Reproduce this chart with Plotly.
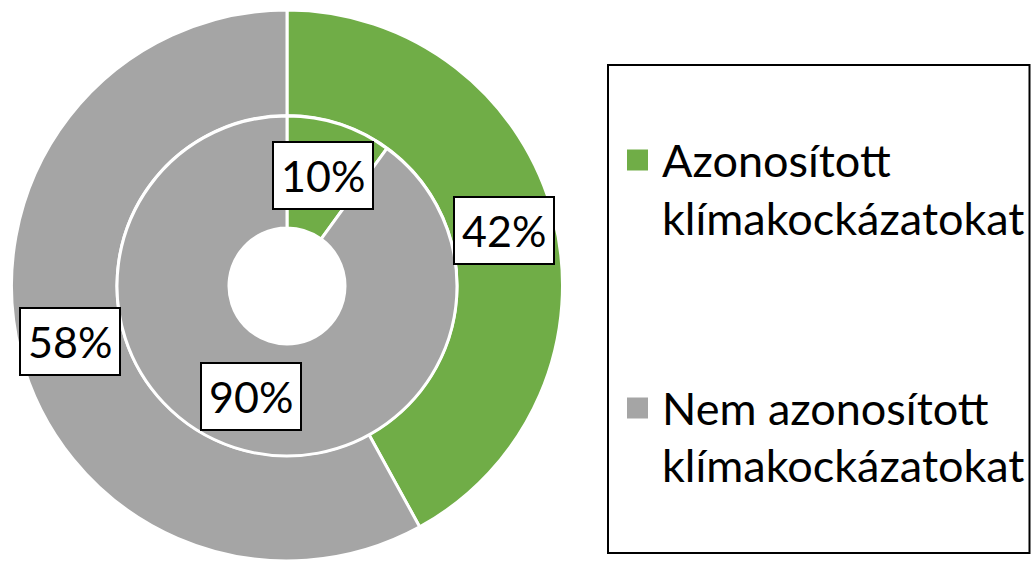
import math
import plotly.graph_objects as go

categories = ["Azonosított klímakockázatokat", "Nem azonosított klímakockázatokat"]
outer_values = [42, 58]
inner_values = [10, 90]
colors = ["#70AD47", "#A5A5A5"]

W, H = 1031, 561
FONT = "Lato"
FS_LABEL = 43
FS_LEG = 45

# geometry in pixels
cx, cy = 287, 286
top_out = 10
R_out = (H - top_out) / 2  # outer ring touches the bottom edge
R_in = 170
hole_in = 58


def px2x(p):
    return p / W


def py2y(p):
    return 1 - p / H


fig = go.Figure()
fig.add_trace(go.Pie(
    values=outer_values, labels=categories, sort=False, direction="clockwise", rotation=0,
    hole=R_in / R_out, marker=dict(colors=colors, line=dict(color="white", width=3)),
    textinfo="none", hoverinfo="skip", showlegend=False,
    domain=dict(x=[px2x(cx - R_out), px2x(cx + R_out)], y=[0, py2y(top_out)]),
))
fig.add_trace(go.Pie(
    values=inner_values, labels=categories, sort=False, direction="clockwise", rotation=0,
    hole=hole_in / R_in, marker=dict(colors=colors, line=dict(color="white", width=3)),
    textinfo="none", hoverinfo="skip", showlegend=False,
    domain=dict(x=[px2x(cx - R_in), px2x(cx + R_in)], y=[py2y(cy + R_in), py2y(cy - R_in)]),
))


def add_labels(values, r):
    total = sum(values)
    cum = 0
    for v in values:
        mid = (cum + v / 2) / total * 2 * math.pi
        cum += v
        px = cx + r * math.sin(mid)
        py = cy - r * math.cos(mid)
        fig.add_annotation(
            x=px2x(px), y=py2y(py), xref="paper", yref="paper",
            xanchor="center", yanchor="middle",
            text=f"{round(v / total * 100)}%", showarrow=False,
            font=dict(family=FONT, size=FS_LABEL, color="black"),
            bgcolor="white", bordercolor="black", borderwidth=2, borderpad=7,
        )


add_labels(outer_values, 224)
add_labels(inner_values, 116)

# legend box
fig.add_shape(type="rect", xref="paper", yref="paper",
              x0=px2x(608), x1=px2x(1029.5), y0=py2y(553), y1=py2y(65),
              line=dict(color="black", width=2), fillcolor="white", layer="below")
item_y = [160, 408]
for cat, col, yy in zip(categories, colors, item_y):
    fig.add_shape(type="rect", xref="paper", yref="paper",
                  x0=px2x(627), x1=px2x(648), y0=py2y(yy + 10.5), y1=py2y(yy - 10.5),
                  line=dict(width=0), fillcolor=col)
    l1, l2 = cat.rsplit(" ", 1)
    for i, t in enumerate([l1, l2]):
        fig.add_annotation(x=px2x(660), y=py2y(yy + i * 57.5), xref="paper", yref="paper",
                           text=t, showarrow=False, xanchor="left", yanchor="middle",
                           font=dict(family=FONT, size=FS_LEG, color="black"))

fig.update_layout(width=W, height=H, margin=dict(l=0, r=0, t=0, b=0),
                  paper_bgcolor="white", plot_bgcolor="white", showlegend=False)
fig.write_html("out.html", config={"displayModeBar": False},
               post_script="document.body.style.margin='0';document.body.style.overflow='hidden';")
